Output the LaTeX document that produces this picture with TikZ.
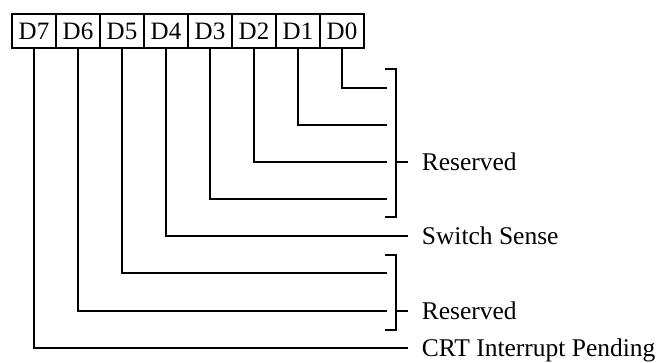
\documentclass[tikz,border=0pt]{standalone}
\usepackage{fontspec}
\setmainfont{Liberation Serif}
\usetikzlibrary{positioning}

\begin{document}
\begin{tikzpicture}[x=1pt,y=-1pt,line width=1.7pt,
    bit/.style={draw,minimum width=44pt,minimum height=34pt,inner sep=0pt,outer sep=0pt,
      font=\fontsize{25}{28}\selectfont},
    desc/.style={anchor=base west,inner sep=0pt,font=\fontsize{25.5}{28}\selectfont}]
    \useasboundingbox (0,0) rectangle (672,362);
    % register bits
    \node[bit] (d7) at (34,31) {D7};
    \node[bit, right=0pt of d7] (d6) {D6};
    \node[bit, right=0pt of d6] (d5) {D5};
    \node[bit, right=0pt of d5] (d4) {D4};
    \node[bit, right=0pt of d4] (d3) {D3};
    \node[bit, right=0pt of d3] (d2) {D2};
    \node[bit, right=0pt of d2] (d1) {D1};
    \node[bit, right=0pt of d1] (d0) {D0};
    % ends of the bit lines
    \coordinate (e0) at (387,88);
    \coordinate (e1) at (387,125);
    \coordinate (e2) at (387,162);
    \coordinate (e3) at (387,199);
    \coordinate (e4) at (408,236);
    \coordinate (e5) at (387,273);
    \coordinate (e6) at (387,311);
    \coordinate (e7) at (408,348);
    % bit lines
    \draw (d0.south) |- (e0);
    \draw (d1.south) |- (e1);
    \draw (d2.south) |- (e2);
    \draw (d3.south) |- (e3);
    \draw (d4.south) |- (e4);
    \draw (d5.south) |- (e5);
    \draw (d6.south) |- (e6);
    \draw (d7.south) |- (e7);
    % brackets
    \draw (385,69) -- (396,69) -- (396,217) -- (385,217);
    \draw (396,162) -- (408,162);
    \draw (385,255) -- (396,255) -- (396,330) -- (385,330);
    \draw (396,311) -- (408,311);
    % labels
    \node[desc] (res1) at (421,170) {Reserved};
    \node[desc] (sense) at (421,244) {Switch Sense};
    \node[desc] (res2) at (421,319) {Reserved};
    \node[desc] (crt) at (421,356) {CRT Interrupt Pending};
\end{tikzpicture}
\end{document}
